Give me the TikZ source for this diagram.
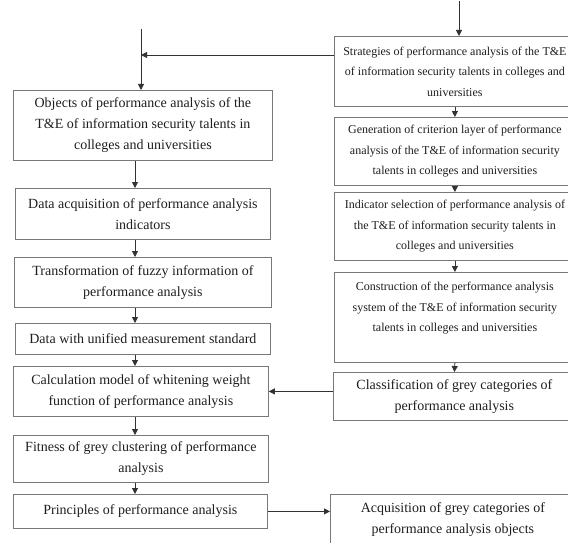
\documentclass[tikz,border=0pt]{standalone}
\usepackage{fontspec}
\setmainfont{Liberation Serif}
\usetikzlibrary{arrows.meta}
\definecolor{boxline}{RGB}{120,120,120}
\definecolor{arrline}{RGB}{50,50,50}
\definecolor{txt}{RGB}{30,30,30}
\tikzset{
  box/.style={draw=boxline, line width=0.8pt, anchor=north west, align=center,
    inner sep=0pt, text=txt, font=\fontsize{14}{21}\selectfont},
  rbox/.style={box, font=\fontsize{12}{20.5}\selectfont},
  conn/.style={draw=arrline, line width=0.8pt, -{Triangle[width=6pt,length=6pt]}},
}
\begin{document}
\begin{tikzpicture}[x=1pt,y=-1pt]
\useasboundingbox (0,0) rectangle (568,543);
% left column
\node[box, minimum width=259, minimum height=70] (obj) at (13,90)
  {Objects of performance analysis of the\\T\&E of information security talents in\\colleges and universities};
\node[box, minimum width=255, minimum height=51] (daq) at (15,188)
  {Data acquisition of performance analysis\\indicators};
\node[box, minimum width=257, minimum height=50] (trf) at (14,257)
  {Transformation of fuzzy information of\\performance analysis};
\node[box, minimum width=255, minimum height=31] (uni) at (15,323)
  {Data with unified measurement standard};
\node[box, minimum width=255, minimum height=50] (calc) at (13,366)
  {Calculation model of whitening weight\\function of performance analysis};
\node[box, minimum width=255, minimum height=47] (fit) at (13,435)
  {Fitness of grey clustering of performance\\analysis};
\node[box, minimum width=254, minimum height=34] (prin) at (13,494)
  {Principles of performance analysis};
% right column
\node[rbox, minimum width=241, minimum height=70] (strat) at (334,36)
  {Strategies of performance analysis of the T\&E\\of information security talents in colleges and\\universities};
\node[rbox, minimum width=241, minimum height=68] (gen) at (334,117)
  {Generation of criterion layer of performance\\analysis of the T\&E of information security\\talents in colleges and universities};
\node[rbox, minimum width=241, minimum height=68] (ind) at (334,192)
  {Indicator selection of performance analysis of\\the T\&E of information security talents in\\colleges and universities};
\node[rbox, minimum width=241, minimum height=90] (con) at (334,272)
  {Construction of the performance analysis\\system of the T\&E of information security\\talents in colleges and universities\\\mbox{}};
\node[box, minimum width=242, minimum height=48] (cls) at (333,372)
  {Classification of grey categories of\\performance analysis};
\node[box, minimum width=245, minimum height=50] (acq) at (330,494)
  {Acquisition of grey categories of\\performance analysis objects};
% connectors
\coordinate (topin) at (459,1);
\coordinate (leftin) at (141,29);
\coordinate (junc) at (141,55);
\coordinate (lx) at (135,0);
\draw[conn] (topin) -- (topin |- strat.north);
\draw[conn] (leftin) -- (leftin |- obj.north);
\draw[conn] (strat.west |- junc) -- (junc);
\draw[conn] (obj.south -| lx) -- (daq.north -| lx);
\draw[conn] (daq.south -| lx) -- (trf.north -| lx);
\draw[conn] (trf.south -| lx) -- (uni.north -| lx);
\draw[conn] (uni.south -| lx) -- (calc.north -| lx);
\draw[conn] (calc.south -| lx) -- (fit.north -| lx);
\draw[conn] (fit.south -| lx) -- (prin.north -| lx);
\draw[conn] (strat.south) -- (gen.north);
\draw[conn] (gen.south) -- (ind.north);
\draw[conn] (ind.south) -- (con.north);
\draw[conn] (con.south) -- (cls.north);
\draw[conn] (cls.west |- calc.east) -- (calc.east);
\draw[conn] (prin.east) -- (prin.east -| acq.west);
\end{tikzpicture}
\end{document}
